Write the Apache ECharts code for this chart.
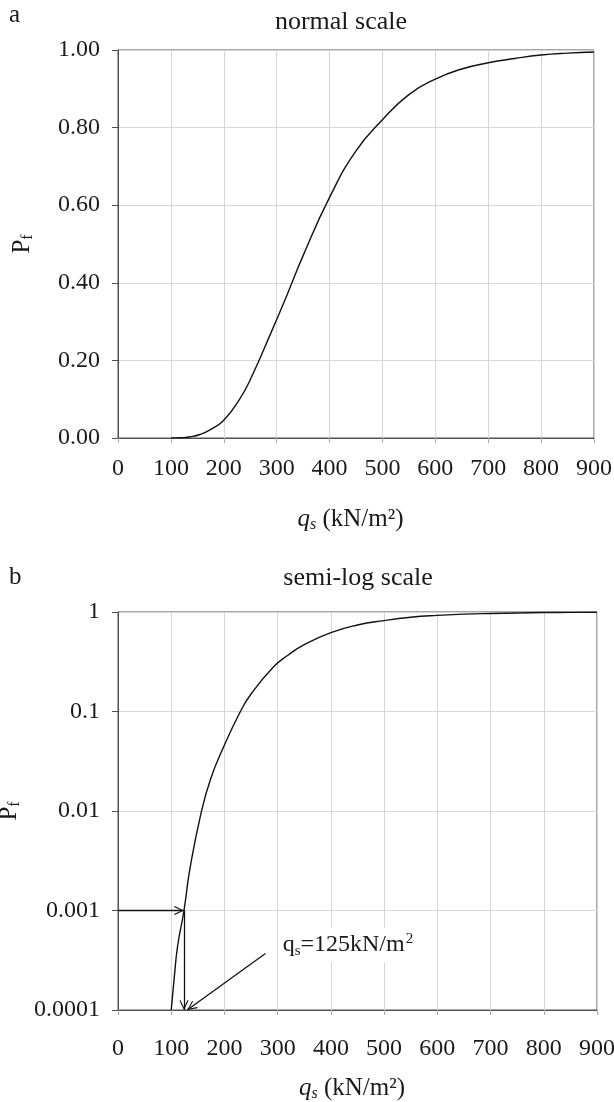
<!DOCTYPE html>
<html><head><meta charset="utf-8">
<script src="https://cdn.jsdelivr.net/npm/echarts@6/dist/echarts.min.js"></script>
<style>html,body{margin:0;padding:0;background:#fff}#c{width:614px;height:1102px}</style>
</head><body><div id="c"></div>
<script>
// ---- data ----
const qValues  = [100, 106, 112, 124, 135, 155, 174, 200, 230, 250, 292, 320, 350, 400, 450, 500, 550, 600, 650, 700, 750, 800, 850, 900];
const pfValues = [0.0001, 0.00022, 0.00044, 0.001, 0.0026, 0.009, 0.021, 0.046, 0.1, 0.15, 0.28, 0.37, 0.47, 0.62, 0.74, 0.82, 0.885, 0.925, 0.951, 0.967, 0.978, 0.987, 0.992, 0.995];
const xTickLabels  = ['0', '100', '200', '300', '400', '500', '600', '700', '800', '900'];
const yTickLabelsA = ['0.00', '0.20', '0.40', '0.60', '0.80', '1.00'];
const yTickLabelsB = ['0.0001', '0.001', '0.01', '0.1', '1'];
// annotation arrows (data coordinates) on the semi-log panel
const arrowH = [[0, 0.001], [124, 0.001]];
const arrowV = [[124, 0.001], [124, 0.0001]];
const arrowD = [[277, 0.00037], [130, 0.0001]];
const noteAt = [432, 0.00045];
const panelTitles = ['normal scale', 'semi-log scale'];
const panelLetters = ['a', 'b'];

// ---- styling ----
const FONT = '"Liberation Serif", "Times New Roman", serif';
const TXT = '#1a1a1a';
const FS = 24;
const GRIDC = '#d6d6d6';
const AXC = '#505050';
const ARROW = 'path://M5,0L5.01,0.01Z M5,10L10,19.3L9,20L5,12.4L1,20L0,19.3Z';

const pts = qValues.map((q, i) => [q, pfValues[i]]);

function xAxisCfg(gi, margin, gap) {
  return {
    type: 'value', gridIndex: gi, min: 0, max: 900, interval: 100,
    axisLine: {show: true, lineStyle: {color: AXC, width: 1}},
    axisTick: {show: true, length: 5, lineStyle: {color: '#aaa'}},
    splitLine: {show: true, lineStyle: {color: GRIDC, width: 1}},
    axisLabel: {fontFamily: FONT, fontSize: FS, color: TXT, margin: margin, hideOverlap: false,
      formatter: (v) => xTickLabels[Math.round(v / 100)]},
    name: '{q|q}{s|s}{t| (kN/m²)}',
    nameLocation: 'middle', nameGap: gap,
    nameTextStyle: {fontFamily: FONT, fontSize: 25, color: TXT, padding: [0, 11, 0, 0],
      rich: {
        q: {fontFamily: FONT, fontSize: 25, fontStyle: 'italic', color: TXT},
        s: {fontFamily: FONT, fontSize: 16, fontStyle: 'italic', color: TXT, padding: [12, 0, 0, 0]},
        t: {fontFamily: FONT, fontSize: 25, color: TXT}
      }}
  };
}
const yName = {
  name: '{p|P}{f|f}', nameLocation: 'middle', nameRotate: 90,
  nameTextStyle: {fontFamily: FONT, fontSize: 25, color: TXT,
    rich: {
      p: {fontFamily: FONT, fontSize: 25, color: TXT},
      f: {fontFamily: FONT, fontSize: 16, color: TXT, padding: [12, 0, 0, 0]}
    }}
};

const option = {
  animation: false,
  backgroundColor: '#fff',
  grid: [
    {left: 118, top: 50, width: 476, height: 388, show: true, borderColor: AXC, borderWidth: 1, backgroundColor: 'transparent', containLabel: false, outerBoundsMode: 'none'},
    {left: 118, top: 612, width: 479, height: 398, show: true, borderColor: AXC, borderWidth: 1, backgroundColor: 'transparent', containLabel: false, outerBoundsMode: 'none'}
  ],
  xAxis: [xAxisCfg(0, 19, 67), xAxisCfg(1, 27, 64)],
  yAxis: [
    Object.assign({
      type: 'value', gridIndex: 0, min: 0, max: 1, interval: 0.2,
      axisLine: {show: true, lineStyle: {color: AXC}},
      axisTick: {show: true, length: 6, lineStyle: {color: AXC}},
      splitLine: {show: true, lineStyle: {color: GRIDC}},
      axisLabel: {fontFamily: FONT, fontSize: FS, color: TXT, margin: 18,
        formatter: (v) => yTickLabelsA[Math.round(v / 0.2)]},
      nameGap: 82
    }, yName),
    Object.assign({
      type: 'log', logBase: 10, gridIndex: 1, min: 0.0001, max: 1,
      axisLine: {show: true, lineStyle: {color: AXC}},
      axisTick: {show: true, length: 6, lineStyle: {color: AXC}},
      splitLine: {show: true, lineStyle: {color: GRIDC}},
      minorTick: {show: false}, minorSplitLine: {show: false},
      axisLabel: {fontFamily: FONT, fontSize: FS, color: TXT, margin: 18,
        formatter: (v) => yTickLabelsB[Math.round(Math.log10(v)) + 4]},
      nameGap: 82
    }, yName)
  ],
  graphic: [
    {type: 'text', left: 9, top: 3, style: {text: panelLetters[0], fontFamily: FONT, fontSize: 25, fill: TXT}},
    {type: 'text', x: 341, y: 22, style: {text: panelTitles[0], fontFamily: FONT, fontSize: 26, fill: TXT, textAlign: 'center', textVerticalAlign: 'middle'}},
    {type: 'text', left: 9, top: 565, style: {text: panelLetters[1], fontFamily: FONT, fontSize: 25, fill: TXT}},
    {type: 'text', x: 358, y: 578, style: {text: panelTitles[1], fontFamily: FONT, fontSize: 26, fill: TXT, textAlign: 'center', textVerticalAlign: 'middle'}}
  ],
  series: [
    {type: 'line', xAxisIndex: 0, yAxisIndex: 0, data: pts, showSymbol: false, smooth: 0.5,
      lineStyle: {color: '#111', width: 1.4}, silent: true},
    {type: 'line', xAxisIndex: 1, yAxisIndex: 1, data: pts, showSymbol: false, smooth: 0.5,
      lineStyle: {color: '#111', width: 1.4}, silent: true,
      markLine: {
        silent: true, symbol: ['none', ARROW], symbolSize: [9, 20],
        lineStyle: {color: '#111', width: 1.3, type: 'solid'},
        label: {show: false}, emphasis: {disabled: true},
        data: [
          [{coord: arrowH[0]}, {coord: arrowH[1]}],
          [{coord: arrowV[0]}, {coord: arrowV[1]}],
          [{coord: arrowD[0]}, {coord: arrowD[1]}]
        ]
      },
      markPoint: {
        silent: true, symbol: 'rect', symbolSize: 1, itemStyle: {color: 'rgba(0,0,0,0)'},
        label: {show: true, position: 'inside', backgroundColor: '#fff', padding: [4, 4, 4, 4],
          formatter: '{a|q}{s|s}{a|=125kN/m}{sup|2}',
          rich: {
            a: {fontFamily: FONT, fontSize: 24, color: TXT},
            s: {fontFamily: FONT, fontSize: 15, color: TXT, padding: [12, 0, 0, 0]},
            sup: {fontFamily: FONT, fontSize: 15, color: TXT, padding: [0, 0, 12, 1]}
          }},
        data: [{coord: noteAt}]
      }
    }
  ]
};

const chart = echarts.init(document.getElementById('c'), null, {renderer: 'canvas'});
chart.setOption(option);
</script></body></html>
